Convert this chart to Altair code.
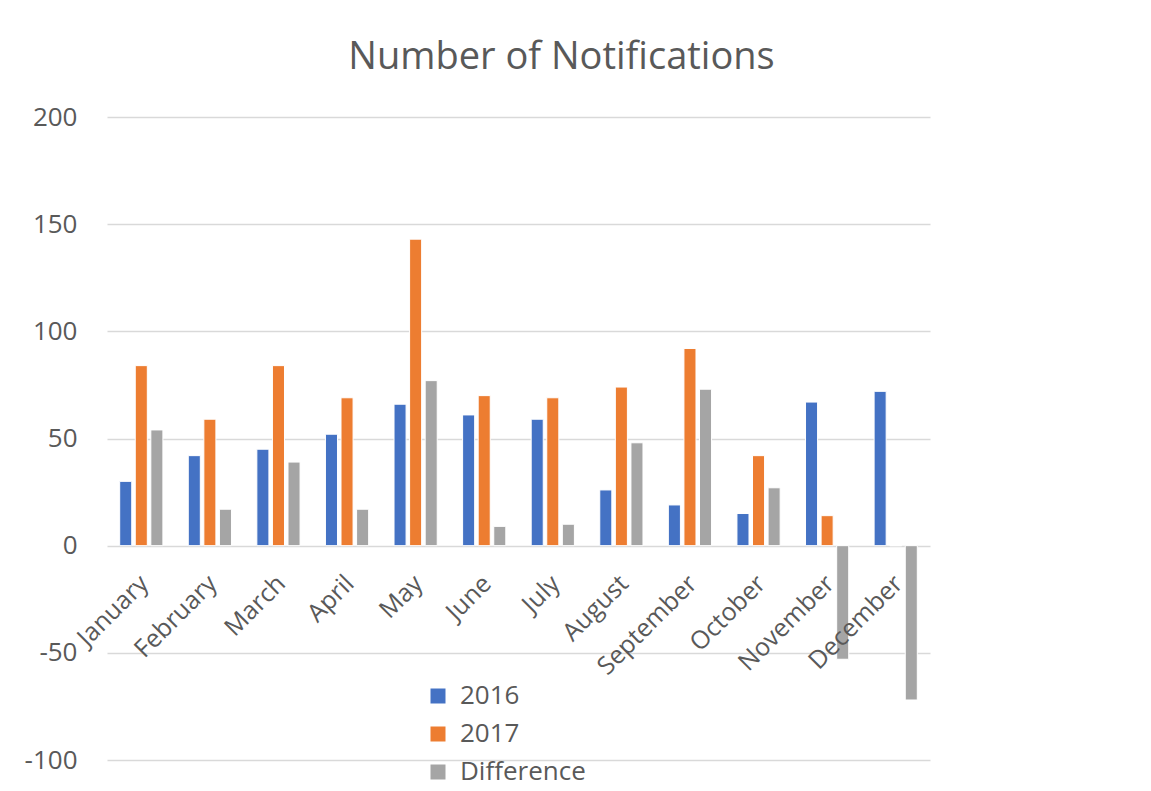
import altair as alt
import pandas as pd

months = ["January", "February", "March", "April", "May", "June", "July",
          "August", "September", "October", "November", "December"]
series = ["2016", "2017", "Difference"]
v2016 = [30, 42, 45, 52, 66, 61, 59, 26, 19, 15, 67, 72]
v2017 = [84, 59, 84, 69, 143, 70, 69, 74, 92, 42, 14, 0]
vdiff = [54, 17, 39, 17, 77, 9, 10, 48, 73, 27, -53, -72]
colors = ["#4472C4", "#ED7D31", "#A5A5A5"]
y_ticks = [-100, -50, 0, 50, 100, 150, 200]

rows = []
for i, m in enumerate(months):
    rows.append({"month": m, "series": "2016", "value": v2016[i]})
    rows.append({"month": m, "series": "2017", "value": v2017[i]})
    rows.append({"month": m, "series": "Difference", "value": vdiff[i]})
df = pd.DataFrame(rows)
labels_df = pd.DataFrame({"month": months, "value": [0] * len(months)})

FONT = "Open Sans"
GREY_TXT = "#595959"

x_enc = alt.X("month:N", sort=months, axis=None,
              scale=alt.Scale(paddingInner=0.37, paddingOuter=0.185))
y_enc = alt.Y("value:Q", scale=alt.Scale(domain=[-100, 200], nice=False, zero=True),
              axis=alt.Axis(values=y_ticks, title=None, domain=False, ticks=False,
                            labelPadding=30, labelFontSize=26, labelFont=FONT,
                            labelColor=GREY_TXT, grid=True, gridColor="#D9D9D9",
                            gridWidth=1.5, labelExpr="'' + datum.value"))

bars = alt.Chart(df).mark_bar(stroke="white", strokeWidth=1).encode(
    x=x_enc,
    xOffset=alt.XOffset("series:N", sort=series,
                        scale=alt.Scale(paddingInner=0.226, paddingOuter=0)),
    y=y_enc,
    color=alt.Color("series:N", sort=series,
                    scale=alt.Scale(domain=series, range=colors),
                    legend=alt.Legend(title=None, orient="none", legendX=318, legendY=566,
                                      direction="vertical", symbolType="square",
                                      symbolSize=225, symbolStrokeWidth=0,
                                      labelFont=FONT, labelFontSize=26,
                                      labelColor=GREY_TXT, labelOffset=9,
                                      rowPadding=12, padding=0)),
)

month_labels = alt.Chart(labels_df).mark_text(
    angle=315, align="right", baseline="alphabetic", dx=-22, dy=34,
    font=FONT, fontSize=25, fill=GREY_TXT
).encode(
    x=alt.X("month:N", sort=months, axis=None),
    y=alt.Y("value:Q"),
    text=alt.Text("month:N"),
)

chart = alt.layer(bars, month_labels).properties(
    width=823,
    height=643,
    title=alt.TitleParams("Number of Notifications", font=FONT, fontSize=38,
                          fontWeight="normal", color=GREY_TXT, anchor="middle",
                          dx=43, dy=31, offset=28, baseline="alphabetic"),
    autosize=alt.AutoSizeParams(type="none"),
    padding={"left": 99, "top": 109, "right": 213, "bottom": 31},
).configure(background="white").configure_view(stroke=None)

chart.save("out.html", embed_options={"renderer": "svg", "actions": False})
